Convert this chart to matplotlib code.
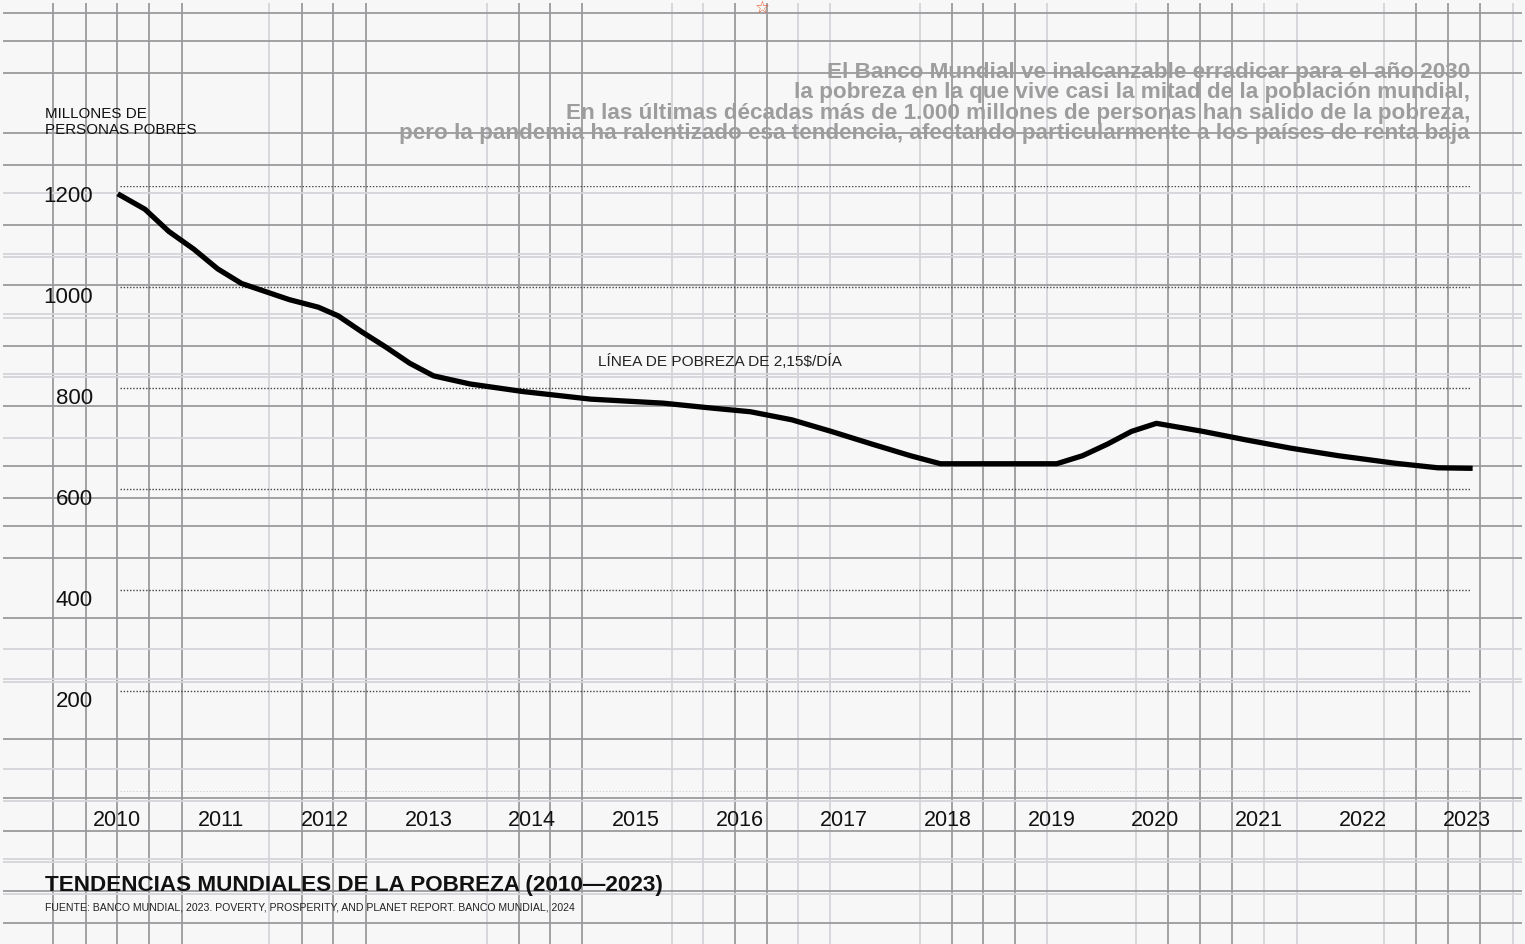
import matplotlib
matplotlib.use("Agg")
import matplotlib.pyplot as plt
import matplotlib.transforms as mtransforms

# --- data ---
years = [2010.00, 2010.24, 2010.47, 2010.71, 2010.94, 2011.17, 2011.40, 2011.63,
         2011.91, 2012.10, 2012.33, 2012.56, 2012.79, 2013.02, 2013.37, 2013.88,
         2014.53, 2015.23, 2015.71, 2016.07, 2016.47, 2016.85, 2017.24, 2017.61,
         2017.90, 2019.02, 2019.27, 2019.51, 2019.74, 2019.98, 2020.43, 2020.85,
         2021.27, 2021.73, 2022.28, 2022.69, 2023.00]
poor_millions = [1182, 1154, 1110, 1075, 1036, 1007, 991, 975,
                 960, 943, 911, 881, 849, 824, 808, 793,
                 778, 770, 760, 753, 737, 714, 689, 666,
                 650, 650, 666, 689, 714, 730, 714, 697,
                 681, 666, 651, 642, 641]

year_labels = list(range(2010, 2024))
y_levels = [0, 200, 400, 600, 800, 1000, 1200]
y_labels = ["", "200", "400", "600", "800", "1000", "1200"]

note_lines = [
    "El Banco Mundial ve inalcanzable erradicar para el año 2030",
    "la pobreza en la que vive casi la mitad de la población mundial,",
    "En las últimas décadas más de 1.000 millones de personas han salido de la pobreza,",
    "pero la pandemia ha ralentizado esa tendencia, afectando particularmente a los países de renta baja",
]
title = "TENDENCIAS MUNDIALES DE LA POBREZA (2010—2023)"
source = "FUENTE: BANCO MUNDIAL, 2023. POVERTY, PROSPERITY, AND PLANET REPORT. BANCO MUNDIAL, 2024"

# decorative background grid (pixel positions, d = dark, l = light)
VLINES = [(53, "d"), (86, "d"), (117, "d"), (149, "d"), (182, "d"), (269, "l"),
          (302, "d"), (333, "d"), (366, "d"), (487, "l"), (519, "d"), (550, "d"),
          (582, "d"), (672, "l"), (703, "l"), (735, "d"), (767, "d"), (798, "l"),
          (830, "l"), (920, "l"), (952, "d"), (983, "d"), (1015, "d"), (1047, "l"),
          (1136, "l"), (1168, "d"), (1200, "d"), (1232, "d"), (1264, "l"),
          (1297, "l"), (1384, "l"), (1416, "d"), (1448, "d"), (1480, "d"), (1513, "l")]
HLINES = [(14, "d"), (42, "d"), (74, "d"), (134, "d"), (166, "d"), (194, "l"),
          (226, "d"), (255, "l"), (258, "l"), (286, "d"), (315, "l"), (319, "l"),
          (347, "d"), (375, "l"), (378, "l"), (407, "d"), (439, "l"), (467, "d"),
          (499, "d"), (527, "d"), (559, "d"), (619, "d"), (650, "l"), (680, "l"),
          (683, "l"), (740, "d"), (770, "l"), (799, "d"), (802, "l"), (832, "d"),
          (860, "l"), (863, "l"), (892, "d"), (895, "l"), (924, "d")]
GRID_COLORS = {"d": "#9a9a9e", "l": "#d4d4da"}

W, H = 1525, 945
BG = "#f7f7f7"
FONT = "Liberation Sans"


def fx(x):
    return x / W


def fy(y):
    return 1 - y / H


plt.rcParams["font.family"] = [FONT, "DejaVu Sans"]

fig = plt.figure(figsize=(W / 100, H / 100), dpi=100, facecolor=BG)

# background grid in pixel coordinates
bg = fig.add_axes([0, 0, 1, 1], zorder=0)
bg.set_xlim(0, W)
bg.set_ylim(H, 0)
bg.axis("off")
for x, k in VLINES:
    bg.plot([x, x], [4, H], color=GRID_COLORS[k], lw=1.3, solid_capstyle="butt")
for y, k in HLINES:
    bg.plot([3, W - 3], [y, y], color=GRID_COLORS[k], lw=1.3, solid_capstyle="butt")

# main chart
ax = fig.add_axes([fx(120), fy(793), (1470 - 120) / W, (793 - 187) / H], zorder=1)
ax.set_facecolor("none")
ax.set_xlim(2010, 2023)
ax.set_ylim(0, 1200)
ax.axis("off")

ax.hlines(y_levels, 2010, 2023.02, colors="#444444", linestyles=(0, (1, 1.3)),
          lw=1.0, zorder=1)
ax.plot(years, poor_millions, color="black", lw=3.8, zorder=3, clip_on=False)

ylab_tr = mtransforms.blended_transform_factory(ax.transAxes, ax.transData)
for v, lab in zip(y_levels, y_labels):
    ax.text(-27 / 1350, v - 19, lab, transform=ylab_tr, ha="right", va="center",
            fontsize=16, color="#111111")

xlab_tr = mtransforms.blended_transform_factory(ax.transData, ax.transAxes)
for yr in year_labels:
    ax.text(yr - 0.03, -27 / 606, str(yr), transform=xlab_tr, ha="center",
            va="center", fontsize=15.5, color="#111111")

# texts
fig.text(fx(45), fy(122), "MILLONES DE\nPERSONAS POBRES", ha="left", va="center",
         fontsize=10.9, color="#111111", linespacing=1.15)
for i, line in enumerate(note_lines):
    fig.text(fx(1470), fy(72.5 + 20.3 * i), line, ha="right", va="center",
             fontsize=16.2, fontweight="bold", color="#9d9d9d")
fig.text(fx(598), fy(362), "LÍNEA DE POBREZA DE 2,15$/DÍA", ha="left", va="center",
         fontsize=11.1, color="#222222")
fig.text(fx(45), fy(886), title, ha="left", va="center", fontsize=16.2,
         fontweight="bold", color="#111111")
fig.text(fx(45), fy(908), source, ha="left", va="center", fontsize=7.6,
         color="#222222")
fig.text(fx(762), fy(8), "☆", ha="center", va="center", fontsize=12,
         color="#e8552a", family="DejaVu Sans")

fig.savefig("out.png", dpi=100, facecolor=BG)
